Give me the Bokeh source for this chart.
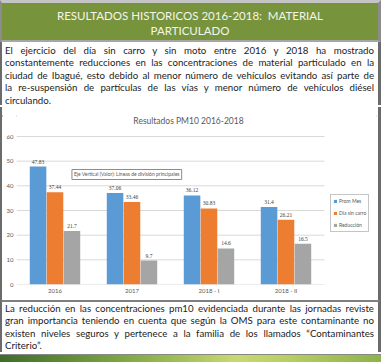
from bokeh.plotting import figure
from bokeh.models import (ColumnDataSource, Div, LabelSet, Label, Legend, LegendItem,
                          FixedTicker, Range1d)
from bokeh.layouts import column, row
from bokeh.embed import file_html
from bokeh.resources import INLINE

# ---------------- data ----------------
categories = ["2016", "2017", "2018 - I", "2018 - II"]
prom_mes = [47.83, 37.06, 36.12, 31.4]
dia_sin_carro = [37.44, 33.46, 30.83, 26.21]
reduccion = [21.7, 9.7, 14.6, 16.5]
series_names = ["Prom Mes", "Día sin carro", "Reducción"]
y_ticks = [0, 10, 20, 30, 40, 50, 60]
chart_title = "Resultados PM10 2016-2018"

header_lines = ["RESULTADOS HISTORICOS 2016-2018:&nbsp; MATERIAL", "PARTICULADO"]
top_lines = [
    "El ejercicio del día sin carro y sin moto entre 2016 y 2018 ha mostrado",
    "constantemente reducciones en las concentraciones de material particulado en la",
    "ciudad de Ibagué, esto debido al menor número de vehículos evitando así parte de",
    "la re-suspensión de partículas de las vías y menor número de vehículos diésel",
    "circulando.",
]
bottom_lines = [
    "La reducción en las concentraciones pm10 evidenciada durante las jornadas reviste",
    "gran importancia teniendo en cuenta que según la OMS para este contaminante no",
    "existen niveles seguros y pertenece a la familia de los llamados “Contaminantes",
    "Criterio”.",
]

W = 381
FONT = "Lato"
colors = ["#5B9BD5", "#ED7D31", "#A5A5A5"]
DARK = "#6b6b6b"

# ---------------- header ----------------
header_html = (
    f'<div style="width:{W}px;height:42px;box-sizing:border-box;background:#77933c;'
    f'border-top:3px solid #c4c4c4;border-left:2px solid #8c8c8c;border-right:3px solid #8c8c8c;'
    f'border-bottom:2px solid #a6a6a6;color:#f4f6ee;'
    f'font-family:{FONT};font-size:11.5px;line-height:15px;text-align:center;'
    f'padding-top:4.5px;">' + "<br>".join(header_lines) + '</div>'
)
header = Div(text=header_html, width=W, height=42, margin=0)


def para_html(lines, h, border_top, pad_top, lh):
    parts = []
    for i, ln in enumerate(lines):
        last = i == len(lines) - 1
        al = "left" if last else "justify"
        parts.append(
            f'<div style="white-space:nowrap;text-align:{al};text-align-last:{al};'
            f'height:{lh}px;line-height:{lh}px;">{ln}</div>'
        )
    return (
        f'<div style="width:{W}px;height:{h}px;box-sizing:border-box;background:#fff;'
        f'border-left:2px solid {DARK};border-right:3px solid {DARK};{border_top}'
        f'padding:{pad_top}px 4px 0 3px;color:#1c1c1c;font-family:{FONT};font-size:9.7px;'
        f'overflow:visible;">' + "".join(parts) + '</div>'
    )


top_text = Div(text=para_html(top_lines, 63, "", 1.75, 12.5), width=W, height=63, margin=0)
sep = Div(text=f'<div style="width:{W}px;height:2px;background:#a6a6a6;"></div>',
          width=W, height=2, margin=0)
bottom_text = Div(text=para_html(bottom_lines, 52, "border-top:2px solid #7f7f7f;", 0, 12.3),
                  width=W, height=52, margin=0)

strip = Div(
    text=(f'<div style="width:{W}px;height:10px;box-sizing:border-box;'
          f'border-top:1px solid #888;'
          f'background:linear-gradient(90deg,#3f6c2c 0%,#6f9a3c 25%,#9dbb55 45%,'
          f'#c9d873 62%,#b8cf63 75%,#8fb24a 100%);"></div>'),
    width=W, height=10, margin=0)

# ---------------- chart ----------------
n = len(categories)
centers = [i + 0.5 for i in range(n)]
bw = 0.215
offs = [-0.22, 0.0, 0.22]
series = [prom_mes, dia_sin_carro, reduccion]

CW = W - 5
CH = 193
# frame spans figure x 14..374 and y 6..177 (0 at 177, 60 at 29)
p = figure(x_range=Range1d(0, 360 / 77), y_range=Range1d(0, 171 * 60 / 148), width=CW, height=CH,
           output_backend="svg", toolbar_location=None,
           min_border_left=14, min_border_right=2, min_border_top=6, min_border_bottom=16)
p.outline_line_color = None
p.background_fill_color = "white"
p.border_fill_color = "white"
p.xgrid.grid_line_color = None
p.ygrid.grid_line_color = None

# horizontal grid lines over the category extent only
p.segment(x0=[0] * len(y_ticks), x1=[n] * len(y_ticks), y0=y_ticks, y1=y_ticks,
          line_color="#d9d9d9", line_width=1)

renderers = []
for name, vals, o, c in zip(series_names, series, offs, colors):
    src = ColumnDataSource(dict(x=[cx + o for cx in centers], top=vals,
                                lab=[str(v) for v in vals]))
    r = p.vbar(x="x", top="top", width=bw, source=src, fill_color=c, line_color=None)
    renderers.append(r)
    p.add_layout(LabelSet(x="x", y="top", text="lab", source=src,
                          y_offset=3, text_align="center", text_baseline="bottom",
                          text_font_size="5.5px", text_color="#404040", text_font=FONT))

title_lbl = Label(x=(186 - 14) / 77, y=(177 - 13) * 60 / 148, text=chart_title,
                  text_font=FONT, text_font_size="8.5px", text_color="#595959",
                  text_align="center", text_baseline="middle")
p.add_layout(title_lbl)

p.yaxis.ticker = FixedTicker(ticks=y_ticks)
p.yaxis.axis_line_color = None
p.yaxis.major_tick_line_color = None
p.yaxis.minor_tick_line_color = None
p.yaxis.major_tick_out = 0
p.yaxis.major_tick_in = 0
p.yaxis.major_label_text_font_size = "6px"
p.yaxis.major_label_text_color = "#595959"
p.yaxis.major_label_text_font = FONT
p.yaxis.major_label_standoff = 3

p.xaxis.ticker = FixedTicker(ticks=centers)
p.xaxis.major_label_overrides = {c: lab for c, lab in zip(centers, categories)}
p.xaxis.axis_line_color = None
p.xaxis.major_tick_line_color = None
p.xaxis.minor_tick_line_color = None
p.xaxis.major_tick_out = 0
p.xaxis.major_tick_in = 0
p.xaxis.major_label_text_font_size = "6px"
p.xaxis.major_label_text_color = "#595959"
p.xaxis.major_label_text_font = FONT
p.xaxis.major_label_standoff = 2

tip = Label(x=0.72, y=44.6, text="Eje Vertical (Valor): Líneas de división principales",
            text_font_size="5px", text_color="#595959", text_font=FONT,
            text_baseline="middle", border_line_color="#8c8c8c",
            background_fill_color="white", padding=2)
p.add_layout(tip)

legend = Legend(items=[LegendItem(label=nm, renderers=[r]) for nm, r in zip(series_names, renderers)],
                location=(314, 52), label_text_font_size="5px", label_text_color="#595959",
                label_text_font=FONT, glyph_width=4, glyph_height=4, label_height=8,
                label_standoff=2, spacing=4, padding=2, margin=0,
                border_line_color="#8c8c8c", background_fill_color="white")
p.add_layout(legend)

lb = Div(text=f'<div style="width:2px;height:{CH}px;background:{DARK}"></div>', width=2, height=CH, margin=0)
rb = Div(text=f'<div style="width:3px;height:{CH}px;background:{DARK}"></div>', width=3, height=CH, margin=0)
chart_row = row(lb, p, rb, spacing=0)

layout = column(header, top_text, sep, chart_row, bottom_text, strip, spacing=0)

open("out.html", "w").write(file_html(layout, INLINE))
